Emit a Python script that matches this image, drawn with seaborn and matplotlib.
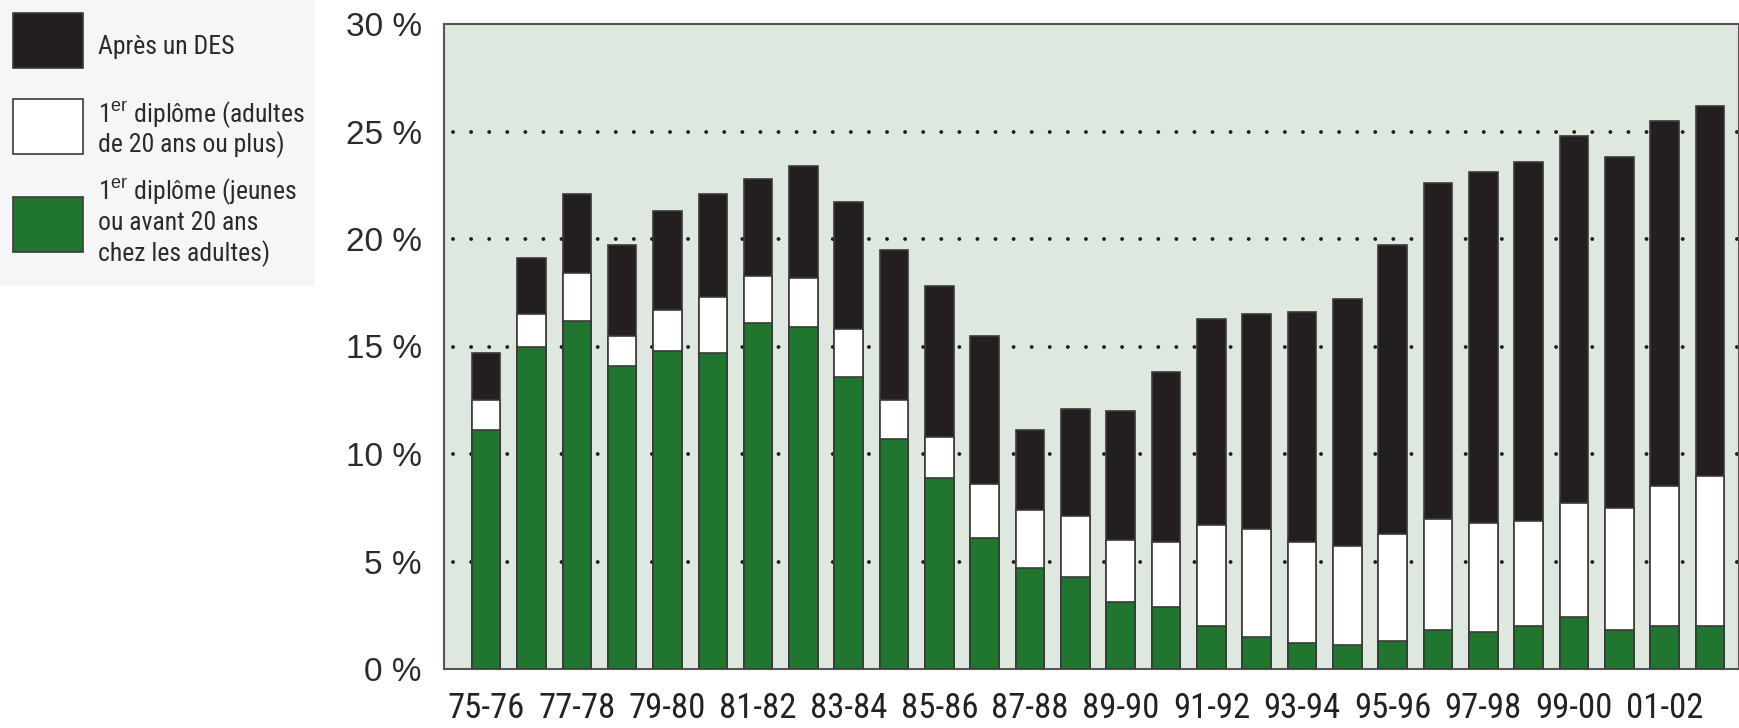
import matplotlib
matplotlib.use("Agg")
import matplotlib.pyplot as plt
import seaborn as sns
from matplotlib.patches import Rectangle

# Data (percent)
seasons = ["75-76", "76-77", "77-78", "78-79", "79-80", "80-81", "81-82", "82-83",
           "83-84", "84-85", "85-86", "86-87", "87-88", "88-89", "89-90", "90-91",
           "91-92", "92-93", "93-94", "94-95", "95-96", "96-97", "97-98", "98-99",
           "99-00", "00-01", "01-02", "02-03"]
first_young = [11.1, 15.0, 16.2, 14.1, 14.8, 14.7, 16.1, 15.9, 13.6, 10.7, 8.9, 6.1,
               4.7, 4.3, 3.1, 2.9, 2.0, 1.5, 1.2, 1.1, 1.3, 1.8, 1.7, 2.0, 2.4, 1.8, 2.0, 2.0]
first_adult = [1.4, 1.5, 2.2, 1.4, 1.9, 2.6, 2.2, 2.3, 2.2, 1.8, 1.9, 2.5,
               2.7, 2.8, 2.9, 3.0, 4.7, 5.0, 4.7, 4.6, 5.0, 5.2, 5.1, 4.9, 5.3, 5.7, 6.5, 7.0]
after_des = [2.2, 2.6, 3.7, 4.2, 4.6, 4.8, 4.5, 5.2, 5.9, 7.0, 7.0, 6.9,
             3.7, 5.0, 6.0, 7.9, 9.6, 10.0, 10.7, 11.5, 13.4, 15.6, 16.3, 16.7, 17.1, 16.3, 17.0, 17.2]
yticks = [0, 5, 10, 15, 20, 25, 30]

legend_labels = [["Après un DES"],
                 [r"1$^{\rm er}$ diplôme (adultes", "de 20 ans ou plus)"],
                 [r"1$^{\rm er}$ diplôme (jeunes", "ou avant 20 ans", "chez les adultes)"]]

BLACK = "#231f20"
GREEN = "#20762e"
WHITE = "#ffffff"
BG = "#dfe8de"
EDGE = "#3a3a3a"

sns.set_style("white")
plt.rcParams["font.family"] = ["Roboto Condensed", "Liberation Sans", "DejaVu Sans"]
plt.rcParams["mathtext.fontset"] = "custom"
plt.rcParams["mathtext.rm"] = "Liberation Sans"

W, H = 1739, 728
fig = plt.figure(figsize=(W / 100, H / 100), dpi=100)
fig.patch.set_facecolor("white")

ax = fig.add_axes([444 / W, 1 - 669 / H, 1 - 444 / W, 645 / H])
ax.set_facecolor(BG)

# stacked bars drawn as cumulative totals, top layer first
mid = [g + a for g, a in zip(first_young, first_adult)]
total = [m + d for m, d in zip(mid, after_des)]
for vals, col in [(total, BLACK), (mid, WHITE), (first_young, GREEN)]:
    sns.barplot(x=seasons, y=vals, color=col, saturation=1, width=0.63,
                edgecolor=EDGE, linewidth=1.2, ax=ax, zorder=3)

# dotted gridlines
for y in yticks[1:-1]:
    ax.axhline(y, xmin=0.007, color="#1e1e1e", linewidth=2.8, linestyle=(0, (0.01, 4.64)),
               dash_capstyle="round", zorder=1)

ax.set_xlim(-0.93, 27.64)
ax.set_ylim(0, 30)
ax.set_yticks(yticks)
ax.set_yticklabels([f"{t} %" for t in yticks], fontfamily=["Liberation Sans", "DejaVu Sans"],
                   fontsize=24, color="#2b2b2b")
ax.set_xticks(range(len(seasons)))
ax.set_xticklabels([s if i % 2 == 0 else "" for i, s in enumerate(seasons)],
                   fontsize=25, color="#222222")
ax.tick_params(axis="y", length=0, pad=16)
ax.tick_params(axis="x", direction="out", length=9.5, width=1.5, color="#444444", pad=7)
ax.set_xlabel("")
ax.set_ylabel("")
for sp in ax.spines.values():
    sp.set_color("#555555")
    sp.set_linewidth(1.5)
    sp.set_visible(True)

# legend panel
lax = fig.add_axes([0, 1 - 286 / H, 315 / W, 286 / H])
lax.set_xlim(0, 315)
lax.set_ylim(286, 0)
lax.set_facecolor("#f6f6f6")
lax.set_xticks([])
lax.set_yticks([])
for sp in lax.spines.values():
    sp.set_visible(False)

patch_tops = [13, 99, 197]
baselines = [[54], [122, 152], [199, 230, 261]]
for col, top, lines, bls in zip([BLACK, WHITE, GREEN], patch_tops, legend_labels, baselines):
    lax.add_patch(Rectangle((13, top), 70, 55, facecolor=col, edgecolor=EDGE, linewidth=1.2))
    for line, bl in zip(lines, bls):
        lax.text(98, bl, line, fontsize=18.5, color="#2b2b2b", va="baseline", ha="left")

fig.savefig("out.png", dpi=100)
